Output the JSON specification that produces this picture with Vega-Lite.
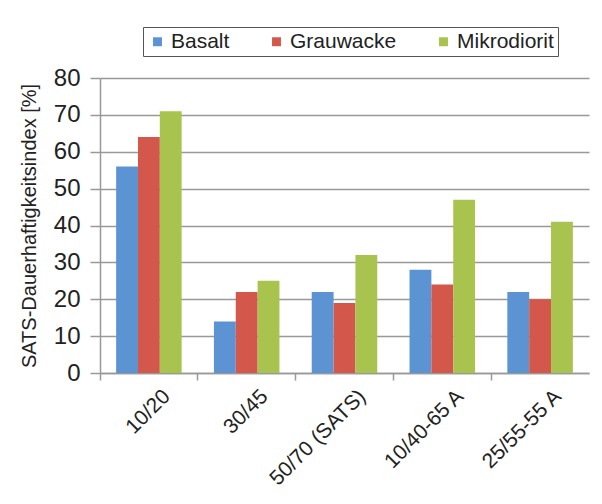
{
  "$schema": "https://vega.github.io/schema/vega-lite/v6.json",
  "width": 489,
  "height": 295,
  "autosize": {"type": "none"},
  "padding": {"left": 100, "top": 78, "right": 13, "bottom": 131},
  "background": "white",
  "data": {
    "values": [
      {"sorte": "10/20", "gestein": "Basalt", "wert": 56},
      {"sorte": "10/20", "gestein": "Grauwacke", "wert": 64},
      {"sorte": "10/20", "gestein": "Mikrodiorit", "wert": 71},
      {"sorte": "30/45", "gestein": "Basalt", "wert": 14},
      {"sorte": "30/45", "gestein": "Grauwacke", "wert": 22},
      {"sorte": "30/45", "gestein": "Mikrodiorit", "wert": 25},
      {"sorte": "50/70 (SATS)", "gestein": "Basalt", "wert": 22},
      {"sorte": "50/70 (SATS)", "gestein": "Grauwacke", "wert": 19},
      {"sorte": "50/70 (SATS)", "gestein": "Mikrodiorit", "wert": 32},
      {"sorte": "10/40-65 A", "gestein": "Basalt", "wert": 28},
      {"sorte": "10/40-65 A", "gestein": "Grauwacke", "wert": 24},
      {"sorte": "10/40-65 A", "gestein": "Mikrodiorit", "wert": 47},
      {"sorte": "25/55-55 A", "gestein": "Basalt", "wert": 22},
      {"sorte": "25/55-55 A", "gestein": "Grauwacke", "wert": 20},
      {"sorte": "25/55-55 A", "gestein": "Mikrodiorit", "wert": 41}
    ]
  },
  "mark": {"type": "bar"},
  "encoding": {
    "x": {
      "field": "sorte",
      "type": "nominal",
      "sort": null,
      "scale": {"paddingInner": 0.33, "paddingOuter": 0.165},
      "axis": {
        "title": null,
        "labelAngle": -45,
        "labelAlign": "right",
        "labelBaseline": "middle",
        "labelOffset": 18,
        "labelPadding": 13,
        "labelFontSize": 21,
        "labelColor": "#222",
        "bandPosition": -0.246,
        "tickSize": 7,
        "tickColor": "#999",
        "tickWidth": 1.5,
        "domainColor": "#999",
        "domainWidth": 1.5,
        "grid": false
      }
    },
    "xOffset": {"field": "gestein", "type": "nominal", "sort": ["Basalt", "Grauwacke", "Mikrodiorit"]},
    "y": {
      "field": "wert",
      "type": "quantitative",
      "scale": {"domain": [0, 80]},
      "axis": {
        "title": "SATS-Dauerhaftigkeitsindex [%]",
        "titleFontSize": 20,
        "titleFontWeight": "normal",
        "titleColor": "#222",
        "titlePadding": 14,
        "values": [0, 10, 20, 30, 40, 50, 60, 70, 80],
        "labelFontSize": 24,
        "labelColor": "#222",
        "labelPadding": 10,
        "tickSize": 10,
        "tickColor": "#999",
        "tickWidth": 1.5,
        "domainColor": "#999",
        "domainWidth": 1.5,
        "gridColor": "#999",
        "gridWidth": 1.5
      }
    },
    "color": {
      "field": "gestein",
      "type": "nominal",
      "sort": ["Basalt", "Grauwacke", "Mikrodiorit"],
      "scale": {"range": ["#5B93D3", "#D4574C", "#A8C44F"]},
      "legend": {
        "title": null,
        "orient": "none",
        "legendX": 43,
        "legendY": -51,
        "direction": "horizontal",
        "symbolType": "square",
        "symbolSize": 80,
        "symbolStrokeWidth": 0,
        "labelFontSize": 21,
        "labelColor": "#222",
        "labelOffset": 3,
        "columnPadding": 36,
        "strokeColor": "#555",
        "padding": 4
      }
    }
  },
  "config": {
    "font": "Liberation Sans",
    "view": {"stroke": null}
  }
}
